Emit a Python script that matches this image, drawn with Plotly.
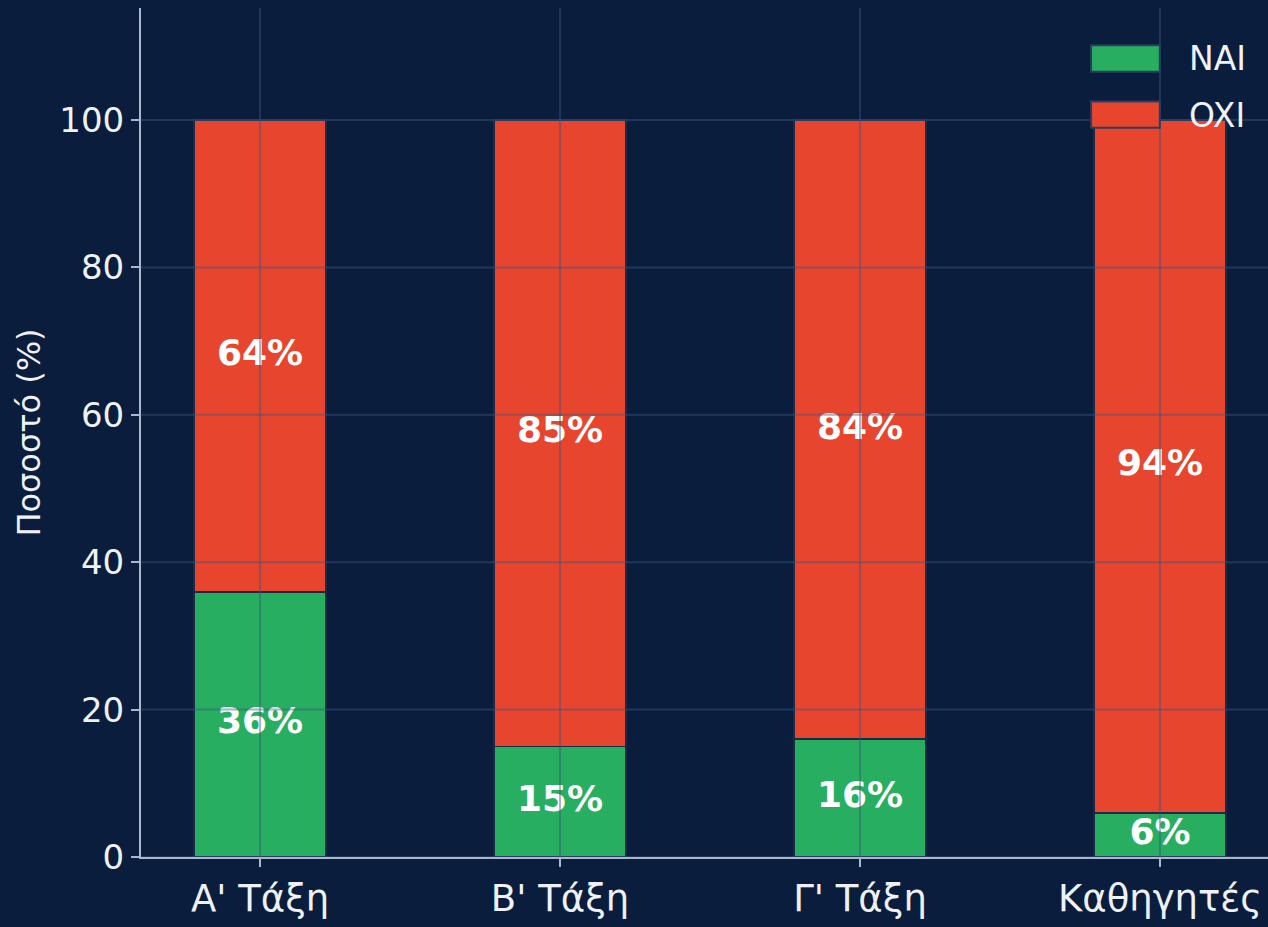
import plotly.graph_objects as go

categories = ["Α' Τάξη", "Β' Τάξη", "Γ' Τάξη", "Καθηγητές"]
series_names = ["NAI", "OXI"]
nai_values = [36, 15, 16, 6]
oxi_values = [64, 85, 84, 94]
y_ticks = [0, 20, 40, 60, 80, 100]

BG = "#0b1d3c"
GREEN = "#27ae60"
RED = "#e8452f"
AXIS = "#a9b8cc"
GRID = "rgba(60,85,125,0.45)"
EDGE = "#1b2b45"
TXT = "#eef2f6"
colors = [GREEN, RED]

fig = go.Figure()
for name, vals, col in zip(series_names, [nai_values, oxi_values], colors):
    fig.add_trace(go.Bar(x=categories, y=vals, name=name, width=0.44, showlegend=False,
                         marker=dict(color=col, line=dict(color=EDGE, width=1.8))))

# value labels centred in each segment
nai_mid = [v / 2 for v in nai_values]
oxi_mid = [n + o / 2 for n, o in zip(nai_values, oxi_values)]
for mids, vals in [(nai_mid, nai_values), (oxi_mid, oxi_values)]:
    fig.add_trace(go.Scatter(x=categories, y=mids, mode="text",
                             text=[f"{v}%" for v in vals], showlegend=False,
                             textfont=dict(family="DejaVu Sans", size=36, color="white", weight="bold"),
                             hoverinfo="skip"))

shapes = []
for t in y_ticks:
    shapes.append(dict(type="line", xref="paper", yref="y", x0=0, x1=1, y0=t, y1=t,
                       line=dict(color=GRID, width=2), layer="above"))
for i in range(len(categories)):
    shapes.append(dict(type="line", xref="x", yref="paper", x0=i, x1=i, y0=0, y1=1,
                       line=dict(color=GRID, width=2), layer="above"))

# legend (patches + labels) in the upper right corner
annotations = []
leg_rows = [(0.956, 0.925, 0.940), (0.890, 0.859, 0.873)]
for (top, bot, mid), name, col in zip(leg_rows, series_names, colors):
    shapes.append(dict(type="rect", xref="paper", yref="paper", x0=0.843, x1=0.904,
                       y0=bot, y1=top, fillcolor=col, line=dict(color="#2a3f60", width=2),
                       layer="above"))
    annotations.append(dict(xref="paper", yref="paper", x=0.928, y=mid, text=name,
                            showarrow=False, xanchor="left", yanchor="middle",
                            font=dict(size=33, color=TXT, family="DejaVu Sans")))

fig.update_layout(
    width=1268, height=927,
    barmode="stack",
    shapes=shapes, annotations=annotations,
    paper_bgcolor=BG, plot_bgcolor=BG,
    margin=dict(l=141, r=0, t=8, b=70),
    font=dict(family="DejaVu Sans", color=TXT),
    showlegend=False,
    xaxis=dict(range=[-0.397, 3.36], showgrid=False, showline=True, linecolor=AXIS,
               linewidth=2, ticks="outside", tickcolor=AXIS, ticklen=8, tickwidth=2,
               tickfont=dict(size=37, color=TXT), zeroline=False),
    yaxis=dict(range=[0, 115.2], tickvals=y_ticks, showgrid=False, showline=True,
               linecolor=AXIS, linewidth=2, ticks="outside", tickcolor=AXIS, ticklen=8,
               tickwidth=2, tickfont=dict(size=34, color=TXT), zeroline=False,
               title=dict(text="Ποσοστό (%)", font=dict(size=32, color=TXT), standoff=9)),
)

fig.write_html("out.html", config={"displayModeBar": False},
               post_script="document.body.style.margin='0';")
